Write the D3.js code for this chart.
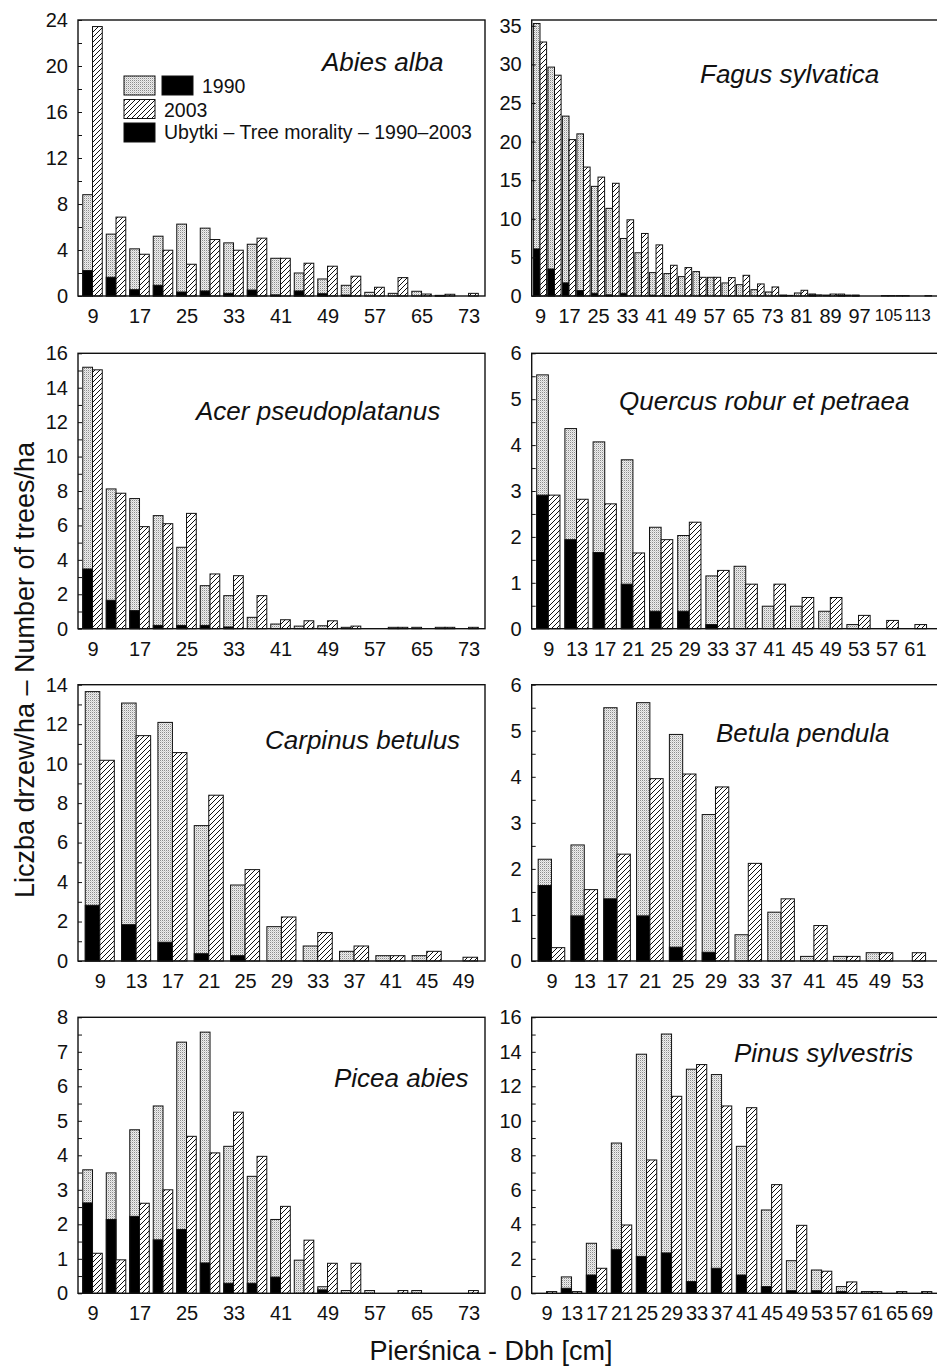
<!DOCTYPE html>
<html><head><meta charset="utf-8">
<script src="https://cdn.jsdelivr.net/npm/d3@7"></script>
<style>
body{margin:0;background:#fff}
svg{display:block}
text{font-family:"Liberation Sans",Arial,Helvetica,sans-serif;fill:#111}
</style>
</head><body>
<svg id="chart" width="937" height="1366"></svg>
<script>
// ---------------- DATA ----------------
const seriesNames = ["1990", "2003", "Ubytki – Tree morality – 1990–2003"];

const abiesDbh  = [9,13,17,21,25,29,33,37,41,45,49,53,57,61,65,69,73];
const abies1990 = [8.81,5.38,4.1,5.2,6.25,5.9,4.62,4.5,3.28,2.0,1.48,0.93,0.32,0.23,0.41,0.05,0];
const abies2003 = [23.43,6.86,3.63,3.98,2.76,4.91,3.98,5.03,3.28,2.85,2.59,1.72,0.76,1.6,0.17,0.15,0.23];
const abiesMort = [2.21,1.63,0.55,0.93,0.35,0.44,0.23,0.52,0.1,0.44,0.2,0.08,0,0,0,0.05,0];
const abiesXTicks = [9,17,25,33,41,49,57,65,73];
const abiesYTicks = [0,4,8,12,16,20,24];

const fagusDbh  = [9,13,17,21,25,29,33,37,41,45,49,53,57,61,65,69,73,77,81,85,89,93,97,101,105,109,113,117];
const fagus1990 = [35.3,29.65,23.3,21.0,14.2,11.35,7.45,5.6,3.03,2.9,2.51,3.16,2.42,1.69,1.47,0.82,0.52,0.1,0.39,0.26,0.12,0.25,0.1,0,0.05,0.05,0,0.05];
const fagus2003 = [32.9,28.6,20.26,16.7,15.4,14.6,9.87,8.1,6.62,3.98,3.68,2.42,2.42,2.38,2.68,1.56,1.17,0.08,0.74,0.15,0.25,0.12,0,0,0.05,0.05,0,0];
const fagusMort = [6.1,3.5,1.7,0.7,0.35,0.15,0.35,0,0.1,0.05,0,0,0,0,0,0,0,0.1,0,0.15,0,0.1,0.1,0,0,0,0,0];
const fagusXTicks = [9,17,25,33,41,49,57,65,73,81,89,97,105,113];
const fagusYTicks = [0,5,10,15,20,25,30,35];

const acerDbh  = [9,13,17,21,25,29,33,37,41,45,49,53,57,61,65,69,73];
const acer1990 = [15.19,8.12,7.56,6.57,4.73,2.5,1.92,0.66,0.27,0.15,0.17,0.08,0,0.08,0.08,0.08,0];
const acer2003 = [15.04,7.87,5.93,6.1,6.7,3.18,3.08,1.92,0.52,0.46,0.46,0.15,0,0.08,0,0.08,0.08];
const acerMort = [3.47,1.65,1.05,0.19,0.19,0.19,0.1,0,0,0,0,0,0,0,0,0,0];
const acerXTicks = [9,17,25,33,41,49,57,65,73];
const acerYTicks = [0,2,4,6,8,10,12,14,16];

const quercusDbh  = [9,13,17,21,25,29,33,37,41,45,49,53,57,61];
const quercus1990 = [5.53,4.36,4.07,3.68,2.21,2.03,1.15,1.36,0.49,0.49,0.38,0.09,0,0];
const quercus2003 = [2.91,2.82,2.72,1.65,1.94,2.32,1.27,0.97,0.97,0.68,0.68,0.29,0.18,0.09];
const quercusMort = [2.91,1.94,1.66,0.97,0.38,0.38,0.09,0,0,0,0,0,0,0];
const quercusXTicks = [9,13,17,21,25,29,33,37,41,45,49,53,57,61];
const quercusYTicks = [0,1,2,3,4,5,6];

const carpinusDbh  = [9,13,17,21,25,29,33,37,41,45,49];
const carpinus1990 = [13.65,13.07,12.09,6.86,3.85,1.74,0.76,0.49,0.27,0.27,0];
const carpinus2003 = [10.17,11.42,10.56,8.4,4.63,2.23,1.44,0.76,0.27,0.49,0.19];
const carpinusMort = [2.82,1.84,0.95,0.37,0.27,0,0,0,0,0,0];
const carpinusXTicks = [9,13,17,21,25,29,33,37,41,45,49];
const carpinusYTicks = [0,2,4,6,8,10,12,14];

const betulaDbh  = [9,13,17,21,25,29,33,37,41,45,49,53];
const betula1990 = [2.21,2.52,5.5,5.61,4.92,3.18,0.57,1.06,0.1,0.1,0.18,0];
const betula2003 = [0.29,1.55,2.32,3.96,4.06,3.78,2.12,1.35,0.77,0.1,0.18,0.18];
const betulaMort = [1.64,0.98,1.35,0.98,0.3,0.19,0,0,0,0,0,0];
const betulaXTicks = [9,13,17,21,25,29,33,37,41,45,49,53];
const betulaYTicks = [0,1,2,3,4,5,6];

const piceaDbh  = [9,13,17,21,25,29,33,37,41,45,49,53,57,61,65,69,73];
const picea1990 = [3.58,3.49,4.74,5.43,7.28,7.57,4.26,3.39,2.14,0.96,0.19,0.08,0.08,0,0.08,0,0];
const picea2003 = [1.16,0.97,2.61,3.0,4.55,4.07,5.25,3.97,2.52,1.54,0.87,0.87,0,0.08,0,0,0.08];
const piceaMort = [2.62,2.14,2.23,1.55,1.85,0.88,0.29,0.29,0.47,0,0.1,0,0,0,0,0,0];
const piceaXTicks = [9,17,25,33,41,49,57,65,73];
const piceaYTicks = [0,1,2,3,4,5,6,7,8];

const pinusDbh  = [9,13,17,21,25,29,33,37,41,45,49,53,57,61,65,69];
const pinus1990 = [0,0.95,2.9,8.71,13.86,15.03,12.99,12.68,8.52,4.83,1.89,1.35,0.39,0.1,0,0];
const pinus2003 = [0.1,0.1,1.45,3.96,7.73,11.42,13.26,10.86,10.76,6.3,3.94,1.28,0.66,0.1,0.1,0.1];
const pinusMort = [0,0.29,1.06,2.53,2.14,2.34,0.68,1.45,1.06,0.39,0.15,0.15,0.1,0,0,0];
const pinusXTicks = [9,13,17,21,25,29,33,37,41,45,49,53,57,61,65,69];
const pinusYTicks = [0,2,4,6,8,10,12,14,16];

const yTitle = "Liczba drzew/ha – Number of trees/ha";
const xTitle = "Pierśnica - Dbh [cm]";

// ---------------- LAYOUT ----------------
const svg = d3.select("#chart");
const FONT = '"Liberation Sans",Arial,Helvetica,sans-serif';
const colL = [78, 485], colR = [531.7, 941];
const rows = [[20,296],[353.3,628.7],[684.7,961],[1017.3,1293.3]];

const panels = [
  {name:"Abies alba", dbh:abiesDbh, a:abies1990, b:abies2003, m:abiesMort, xt:abiesXTicks, yt:abiesYTicks,
   col:colL, row:rows[0], xd:[6.53,75.8], yMax:24, minor:2, bw:1.66, title:[322,71], legend:true},
  {name:"Fagus sylvatica", dbh:fagusDbh, a:fagus1990, b:fagus2003, m:fagusMort, xt:fagusXTicks, yt:fagusYTicks,
   col:colR, row:rows[0], xd:[6.71,119.6], yMax:35.75, minor:0, bw:1.82, title:[700,83], small3:true},
  {name:"Acer pseudoplatanus", dbh:acerDbh, a:acer1990, b:acer2003, m:acerMort, xt:acerXTicks, yt:acerYTicks,
   col:colL, row:rows[1], xd:[6.53,75.8], yMax:16, minor:1, bw:1.66, title:[196,420]},
  {name:"Quercus robur et petraea", dbh:quercusDbh, a:quercus1990, b:quercus2003, m:quercusMort, xt:quercusXTicks, yt:quercusYTicks,
   col:colR, row:rows[1], xd:[6.64,64.7], yMax:6, minor:0.5, bw:1.65, title:[619,410]},
  {name:"Carpinus betulus", dbh:carpinusDbh, a:carpinus1990, b:carpinus2003, m:carpinusMort, xt:carpinusXTicks, yt:carpinusYTicks,
   col:colL, row:rows[2], xd:[6.6,51.42], yMax:14, minor:1, bw:1.6, title:[265,749]},
  {name:"Betula pendula", dbh:betulaDbh, a:betula1990, b:betula2003, m:betulaMort, xt:betulaXTicks, yt:betulaYTicks,
   col:colR, row:rows[2], xd:[6.59,56.5], yMax:6, minor:0.5, bw:1.62, title:[716,742]},
  {name:"Picea abies", dbh:piceaDbh, a:picea1990, b:picea2003, m:piceaMort, xt:piceaXTicks, yt:piceaYTicks,
   col:colL, row:rows[3], xd:[6.53,75.8], yMax:8, minor:0.5, bw:1.66, title:[334,1087]},
  {name:"Pinus sylvestris", dbh:pinusDbh, a:pinus1990, b:pinus2003, m:pinusMort, xt:pinusXTicks, yt:pinusYTicks,
   col:colR, row:rows[3], xd:[6.63,72.1], yMax:16, minor:1, bw:1.63, title:[734,1062]}
];

// ---------------- PATTERNS ----------------
const defs = svg.append("defs");
const stip = defs.append("pattern").attr("id","stipple").attr("patternUnits","userSpaceOnUse")
  .attr("width",2).attr("height",2);
stip.append("rect").attr("width",2).attr("height",2).attr("fill","#eeeeee");
stip.append("rect").attr("x",0).attr("y",0).attr("width",1).attr("height",1).attr("fill","#8c8c8c");
stip.append("rect").attr("x",1).attr("y",1).attr("width",1).attr("height",1).attr("fill","#cfcfcf");

const hatch = defs.append("pattern").attr("id","hatch").attr("patternUnits","userSpaceOnUse")
  .attr("width",5).attr("height",5);
hatch.append("rect").attr("width",5).attr("height",5).attr("fill","#fff");
hatch.append("path").attr("d","M-1,1 L1,-1 M0,5 L5,0 M4,6 L6,4")
  .attr("stroke","#111").attr("stroke-width",1);

// ---------------- PANELS ----------------
panels.forEach(p => {
  const x = d3.scaleLinear().domain(p.xd).range(p.col);
  const y = d3.scaleLinear().domain([0, p.yMax]).range([p.row[1], p.row[0]]);
  const g = svg.append("g");
  const rows = p.dbh.map((d,i) => ({d, a:p.a[i], b:p.b[i], m:p.m[i]}));

  // 1990 bars
  g.selectAll(".b90").data(rows.filter(r => r.a > 0)).join("rect")
    .attr("x", r => x(r.d - p.bw)).attr("width", r => x(r.d) - x(r.d - p.bw))
    .attr("y", r => y(r.a)).attr("height", r => y(0) - y(r.a))
    .attr("fill","url(#stipple)").attr("stroke","#111").attr("stroke-width",1);
  // mortality overlay
  g.selectAll(".bm").data(rows.filter(r => r.m > 0)).join("rect")
    .attr("x", r => x(r.d - p.bw)).attr("width", r => x(r.d) - x(r.d - p.bw))
    .attr("y", r => y(r.m)).attr("height", r => y(0) - y(r.m))
    .attr("fill","#000").attr("stroke","#111").attr("stroke-width",1);
  // 2003 bars
  g.selectAll(".b03").data(rows.filter(r => r.b > 0)).join("rect")
    .attr("x", r => x(r.d)).attr("width", r => x(r.d + p.bw) - x(r.d))
    .attr("y", r => y(r.b)).attr("height", r => y(0) - y(r.b))
    .attr("fill","url(#hatch)").attr("stroke","#111").attr("stroke-width",1);

  // frame
  g.append("rect").attr("x", p.col[0]).attr("y", p.row[0])
    .attr("width", p.col[1]-p.col[0]).attr("height", p.row[1]-p.row[0])
    .attr("fill","none").attr("stroke","#111").attr("stroke-width",1.4);

  // y axis (ticks inside)
  const ya = g.append("g").attr("transform",`translate(${p.col[0]},0)`)
    .call(d3.axisLeft(y).tickValues(p.yt).tickFormat(d3.format("~g"))
      .tickSizeInner(-4).tickSizeOuter(0).tickPadding(10));
  ya.select(".domain").remove();
  ya.selectAll("text").attr("font-size",20).attr("font-family",FONT).attr("fill","#111");
  ya.selectAll("line").attr("stroke","#111");
  if (p.minor) {
    const mv = d3.range(0, p.yMax + 1e-9, p.minor).filter(v => !p.yt.some(t => Math.abs(t-v) < 1e-9));
    const ym = g.append("g").attr("transform",`translate(${p.col[0]},0)`)
      .call(d3.axisLeft(y).tickValues(mv).tickSizeInner(-4).tickSizeOuter(0).tickFormat(""));
    ym.select(".domain").remove();
    ym.selectAll("line").attr("stroke","#111");
  }

  // x axis labels
  const xa = g.append("g").attr("transform",`translate(0,${p.row[1]})`)
    .call(d3.axisBottom(x).tickValues(p.xt).tickSize(0).tickPadding(13).tickFormat(d3.format("d")));
  xa.select(".domain").remove();
  xa.selectAll("text").attr("font-size",20).attr("font-family",FONT).attr("fill","#111");
  if (p.small3) {
    xa.selectAll("text").filter(d => String(d).length > 2).attr("font-size",16.5);
  }

  // species title
  g.append("text").attr("x", p.title[0]).attr("y", p.title[1])
    .attr("font-size",26).attr("font-style","italic").text(p.name);

  if (p.legend) {
    const L = svg.append("g");
    const bx = 124, bw = 31, bh = 19;
    const rowsY = [76, 99.5, 123];
    L.append("rect").attr("x",bx).attr("y",rowsY[0]).attr("width",bw).attr("height",bh)
      .attr("fill","url(#stipple)").attr("stroke","#111");
    L.append("rect").attr("x",162).attr("y",rowsY[0]).attr("width",bw).attr("height",bh)
      .attr("fill","#000").attr("stroke","#111");
    L.append("text").attr("x",202).attr("y",rowsY[0]+bh-2).attr("font-size",19.5).text(seriesNames[0]);
    L.append("rect").attr("x",bx).attr("y",rowsY[1]).attr("width",bw).attr("height",bh)
      .attr("fill","url(#hatch)").attr("stroke","#111");
    L.append("text").attr("x",164).attr("y",rowsY[1]+bh-2).attr("font-size",19.5).text(seriesNames[1]);
    L.append("rect").attr("x",bx).attr("y",rowsY[2]).attr("width",bw).attr("height",bh)
      .attr("fill","#000").attr("stroke","#111");
    L.append("text").attr("x",164).attr("y",rowsY[2]+bh-3).attr("font-size",19.5).text(seriesNames[2]);
  }
});

// axis titles
svg.append("text").attr("transform","translate(34,670) rotate(-90)")
  .attr("text-anchor","middle").attr("font-size",27).text(yTitle);
svg.append("text").attr("x",491).attr("y",1360)
  .attr("text-anchor","middle").attr("font-size",27).text(xTitle);
</script>
</body></html>
